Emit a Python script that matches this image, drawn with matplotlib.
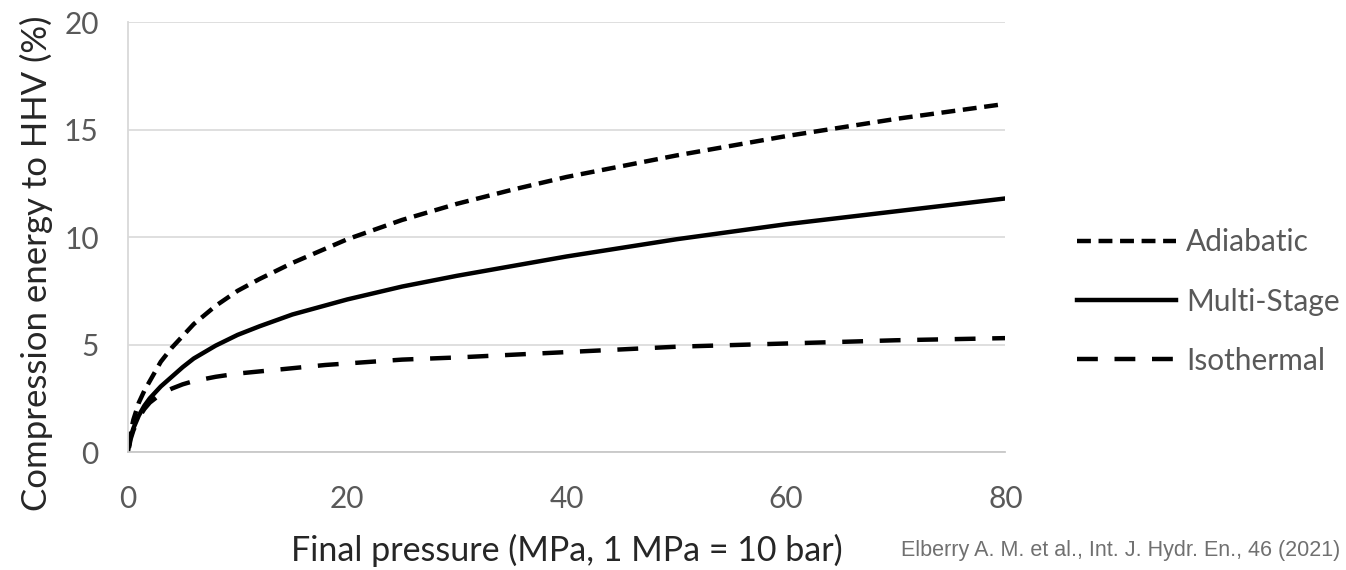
import matplotlib
matplotlib.use("Agg")
import matplotlib.pyplot as plt

plt.rcParams['font.family'] = ['Lato', 'DejaVu Sans']
plt.rcParams['lines.scale_dashes'] = False

# pressure (MPa) and compression energy (% of HHV)
p_adia = [0.1, 0.25, 0.5, 1, 1.5, 2, 3, 4, 5, 6, 8, 10, 12, 15, 20, 25, 30, 35, 40, 50, 60, 70, 80]
e_adia = [0.3, 0.9, 1.5, 2.3, 2.85, 3.3, 4.2, 4.85, 5.4, 5.95, 6.8, 7.5, 8.05, 8.8, 9.9, 10.8,
          11.55, 12.2, 12.8, 13.8, 14.7, 15.5, 16.2]

p_multi = [0, 0.25, 0.5, 1, 1.5, 2, 3, 4, 5, 6, 8, 10, 12, 15, 20, 25, 30, 40, 50, 60, 70, 80]
e_multi = [0, 0.7, 1.1, 1.7, 2.15, 2.5, 3.05, 3.5, 3.95, 4.35, 4.95, 5.45, 5.85, 6.4, 7.1, 7.7,
           8.2, 9.1, 9.9, 10.6, 11.2, 11.8]

p_iso = [0.1, 0.25, 0.5, 1, 1.5, 2, 3, 4, 5, 6, 8, 10, 12, 18, 25, 30, 40, 50, 60, 70, 80]
e_iso = [0.2, 0.6, 1.0, 1.6, 2.0, 2.3, 2.7, 2.95, 3.15, 3.3, 3.5, 3.65, 3.75, 4.05, 4.3, 4.4,
         4.65, 4.9, 5.05, 5.2, 5.3]

labels = ['Adiabatic', 'Multi-Stage', 'Isothermal']

fig = plt.figure(figsize=(13.46, 5.70), dpi=100)
ax = fig.add_axes([0.095, 0.207, 0.652, 0.754])

ax.plot(p_adia, e_adia, color='black', lw=3.2, dashes=(10, 5.5), label=labels[0])
ax.plot(p_multi, e_multi, color='black', lw=3.2, label=labels[1])
ax.plot(p_iso, e_iso, color='black', lw=3.2, dashes=(15, 12), label=labels[2])

ax.set_xlim(0, 80)
ax.set_ylim(0, 20)
ax.set_xticks([0, 20, 40, 60, 80])
ax.set_yticks([0, 5, 10, 15, 20])
ax.yaxis.grid(True, color='#dcdcdc', lw=1.3)
ax.set_axisbelow(True)
for s in ['top', 'right']:
    ax.spines[s].set_visible(False)
ax.spines['left'].set_color('#d9d9d9')
ax.spines['bottom'].set_color('#c8c8c8')
ax.spines['left'].set_linewidth(1.3)
ax.spines['bottom'].set_linewidth(1.3)
ax.tick_params(length=0, labelsize=21.5, labelcolor='#595959')
ax.tick_params(axis='y', pad=21)
ax.tick_params(axis='x', pad=23.5)

ax.set_xlabel('Final pressure (MPa, 1 MPa = 10 bar)', fontsize=24.5, color='#262626')
ax.xaxis.set_label_coords(0.5, -0.19)
ax.set_ylabel('Compression energy to HHV (%)', fontsize=25, color='#262626')
ax.yaxis.set_label_coords(-0.085, 0.44)

leg = ax.legend(loc='center left', bbox_to_anchor=(1.082, 0.35), frameon=False,
                borderpad=0, borderaxespad=0, fontsize=21.5, handlelength=3.3,
                handletextpad=0.33, labelspacing=1.05)
for t in leg.get_texts():
    t.set_color('#595959')

fig.text(0.996, 0.025, 'Elberry A. M. et al., Int. J. Hydr. En., 46 (2021)',
         family='Liberation Sans', fontsize=15.5, color='#707070', ha='right', va='baseline')

fig.savefig('out.png', dpi=100)
